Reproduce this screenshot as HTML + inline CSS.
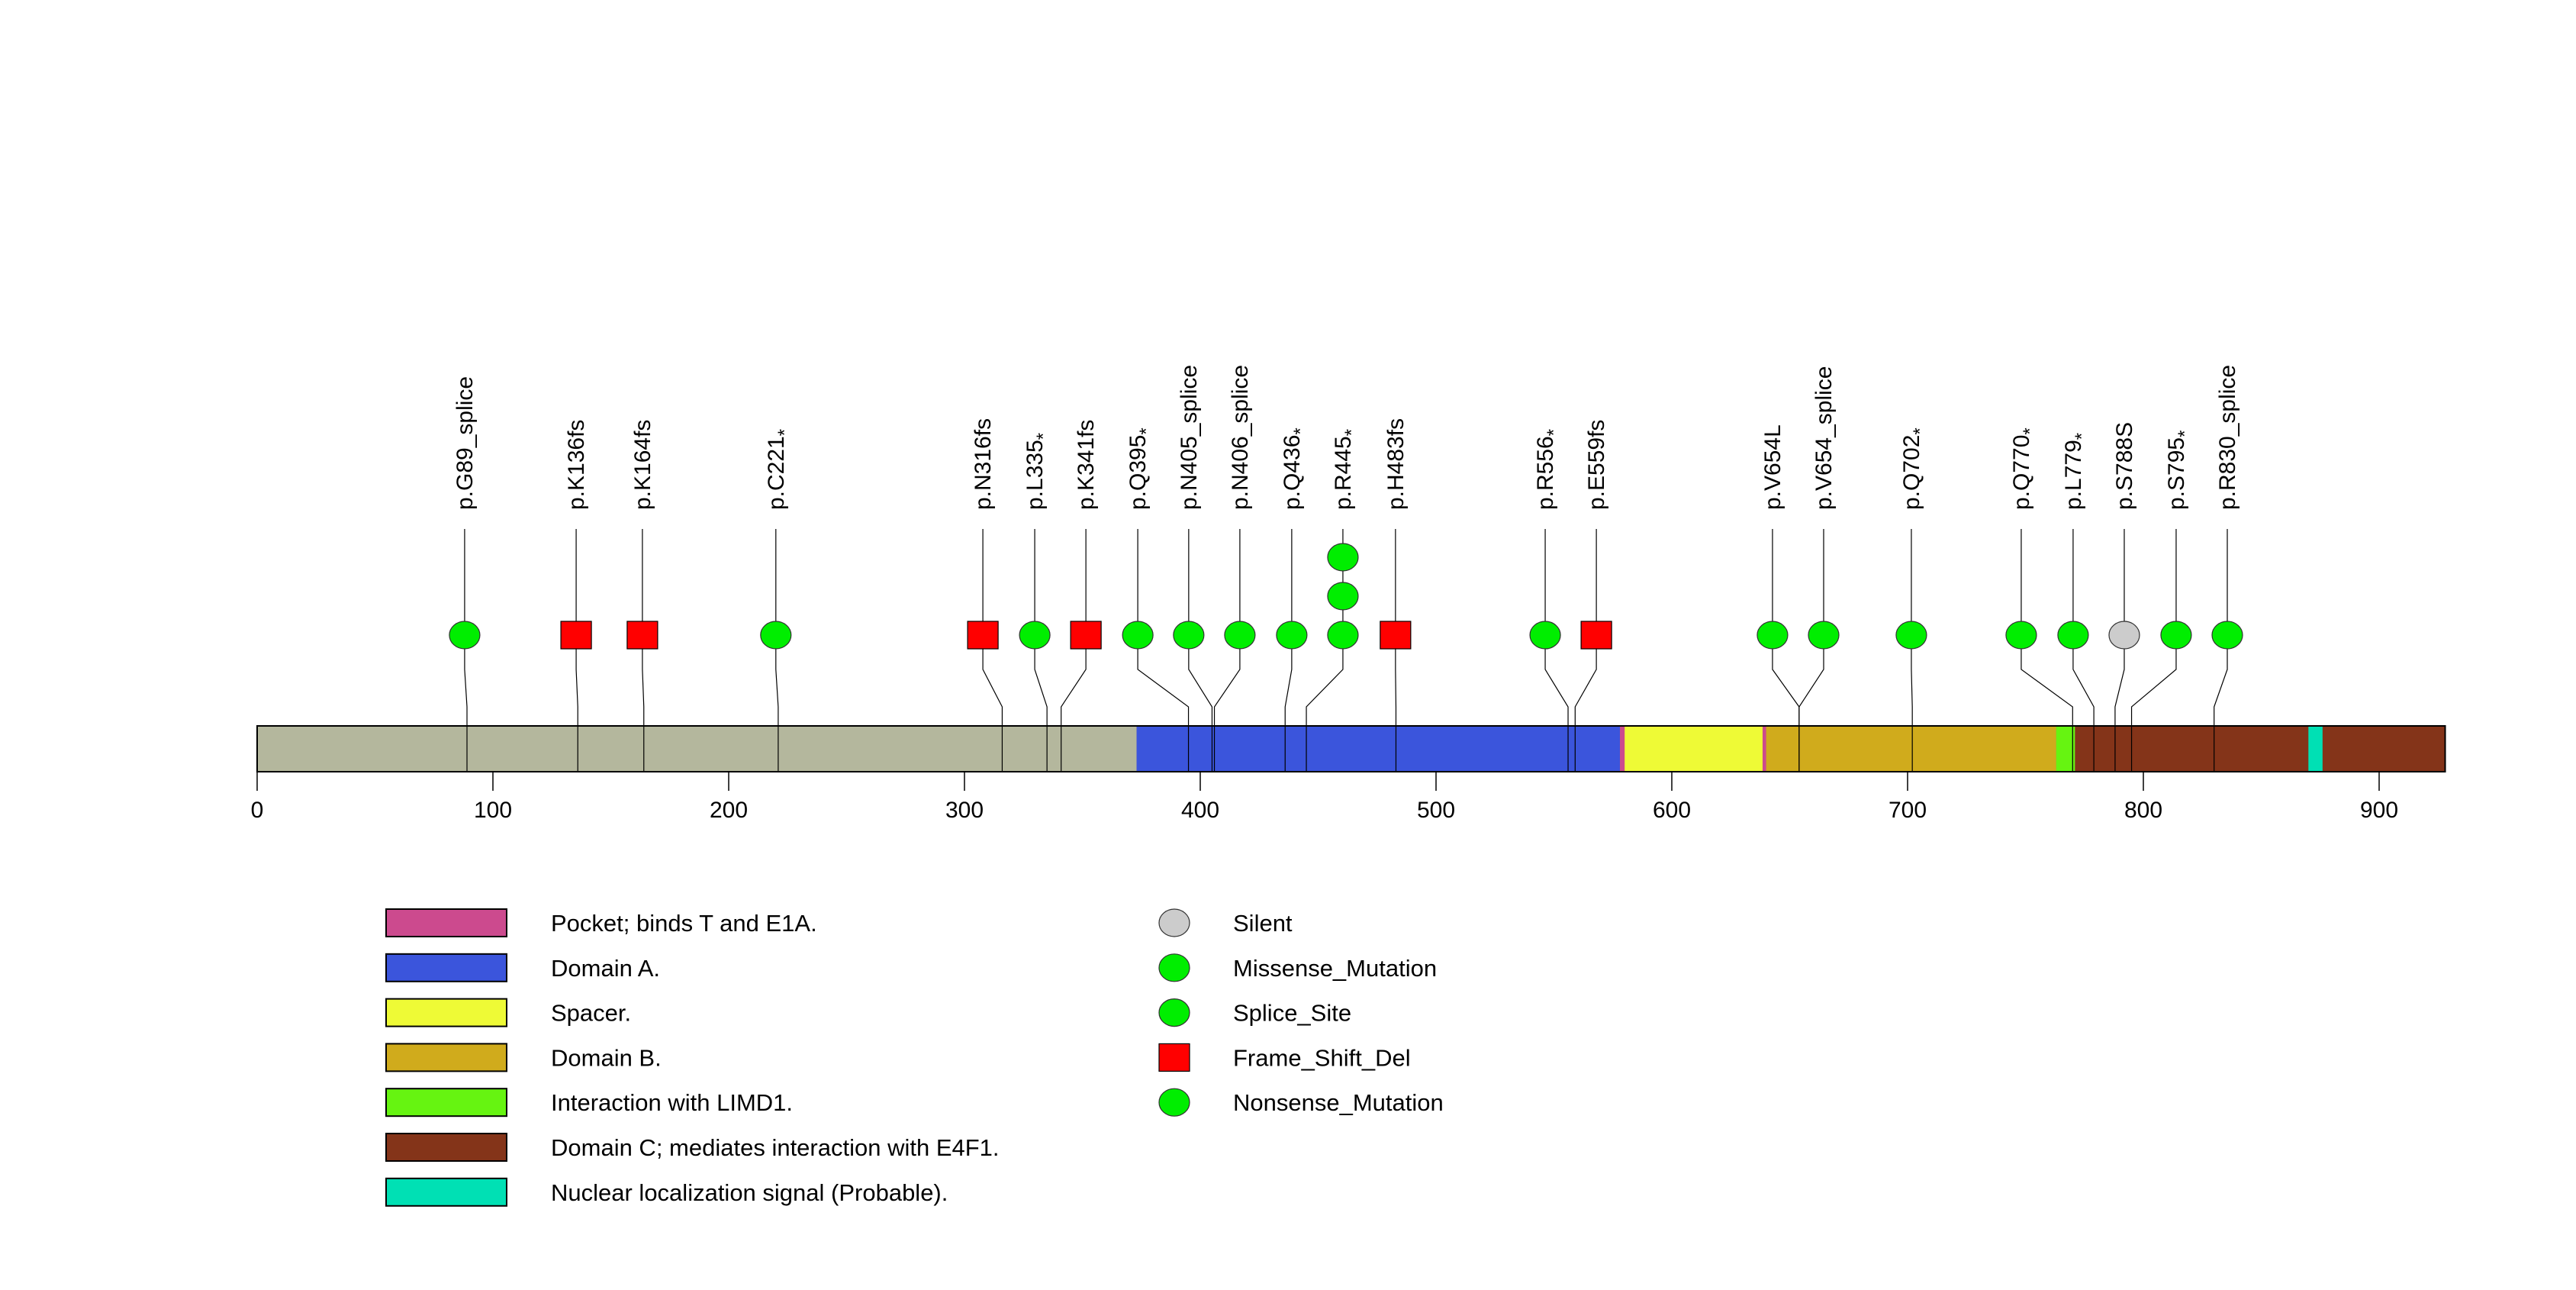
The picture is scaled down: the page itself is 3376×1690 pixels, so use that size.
<!DOCTYPE html>
<html><head><meta charset="utf-8"><style>
html,body{margin:0;padding:0;background:#fff;}
svg{display:block;font-family:"Liberation Sans",Arial,sans-serif;}
</style></head><body>
<svg id="chart" width="3376" height="1690" viewBox="0 0 3376 1690" xmlns="http://www.w3.org/2000/svg">
<g id="domains"></g>
<g id="axis"></g>
<g id="muts"></g>
<g id="legend"></g>
</svg>
<script>
const proteinLength = 928;
const domainNames = ["Pocket; binds T and E1A.","Domain A.","Spacer.","Domain B.","Interaction with LIMD1.","Domain C; mediates interaction with E4F1.","Nuclear localization signal (Probable)."];
const domainColors = ["#cc4a8e","#3b55dc","#eefa36","#d0ab1c","#66f411","#843419","#00e0b4"];
const domainStart = [373,373,580,640,763,771,870];
const domainEnd   = [771,578,638.5,763,771,928,876];
const tickValues = [0,100,200,300,400,500,600,700,800,900];
const mutLabels = ["p.G89_splice","p.K136fs","p.K164fs","p.C221*","p.N316fs","p.L335*","p.K341fs","p.Q395*","p.N405_splice","p.N406_splice","p.Q436*","p.R445*","p.H483fs","p.R556*","p.E559fs","p.V654L","p.V654_splice","p.Q702*","p.Q770*","p.L779*","p.S788S","p.S795*","p.R830_splice"];
const mutPos = [89,136,164,221,316,335,341,395,405,406,436,445,483,556,559,654,654,702,770,779,788,795,830];
const mutDisplayPos = [88,135.3,163.4,220,307.8,329.8,351.5,373.5,395.1,416.8,438.8,460.5,482.8,546.3,568,642.7,664.4,701.6,748.2,770.2,791.9,813.9,835.6];
const mutCounts = [1,1,1,1,1,1,1,1,1,1,1,3,1,1,1,1,1,1,1,1,1,1,1];
const mutTypes = ["Splice_Site","Frame_Shift_Del","Frame_Shift_Del","Nonsense_Mutation","Frame_Shift_Del","Nonsense_Mutation","Frame_Shift_Del","Nonsense_Mutation","Splice_Site","Splice_Site","Nonsense_Mutation","Nonsense_Mutation","Frame_Shift_Del","Nonsense_Mutation","Frame_Shift_Del","Missense_Mutation","Splice_Site","Nonsense_Mutation","Nonsense_Mutation","Nonsense_Mutation","Silent","Nonsense_Mutation","Splice_Site"];
const legendTypes = ["Silent","Missense_Mutation","Splice_Site","Frame_Shift_Del","Nonsense_Mutation"];
const typeColors = {"Silent":"#cccccc","Missense_Mutation":"#00ee00","Splice_Site":"#00ee00","Frame_Shift_Del":"#ff0000","Nonsense_Mutation":"#00ee00"};

const NS="http://www.w3.org/2000/svg";
const X0=337, PX=3.09;
function xs(v){return X0+v*PX;}
const barTop=951, barBot=1011, markY=832, stackGap=51;
function mk(tag,attrs,parent){const e=document.createElementNS(NS,tag);for(const k in attrs)e.setAttribute(k,attrs[k]);parent.appendChild(e);return e;}

const gd=document.getElementById('domains');
let bg=mk('rect',{x:xs(0),y:barTop,width:xs(proteinLength)-xs(0),height:barBot-barTop,fill:'#b4b79d',stroke:'none'},gd);


domainNames.forEach((n,i)=>{
  const r=mk('rect',{x:xs(domainStart[i]),y:barTop,width:xs(domainEnd[i])-xs(domainStart[i]),height:barBot-barTop,fill:domainColors[i]},gd);
  
  
});
mk('rect',{x:xs(0),y:barTop,width:xs(proteinLength)-xs(0),height:barBot-barTop,fill:'none',stroke:'#000','stroke-width':2},gd);

const ga=document.getElementById('axis');
tickValues.forEach(t=>{
  const l=mk('line',{x1:xs(t),x2:xs(t),y1:barBot,y2:1036,stroke:'#000','stroke-width':1.5},ga);
  
  
  const tx=mk('text',{x:xs(t),y:1071,'font-size':30,'text-anchor':'middle'},ga);
  tx.textContent=t;
  
  
});

const gm=document.getElementById('muts');
mutLabels.forEach((lab,i)=>{
  const px=xs(mutPos[i]), lx=xs(mutDisplayPos[i]);
  const g=mk('g',{},gm);
  
  
  mk('polyline',{points:`${lx},693 ${lx},877 ${px},926 ${px},${barBot}`,fill:'none',stroke:'#000','stroke-width':1.2},g);
  for(let k=0;k<mutCounts[i];k++){
    const cy=markY-k*stackGap, c=typeColors[mutTypes[i]];
    let m;
    if(mutTypes[i]==='Frame_Shift_Del') m=mk('rect',{x:lx-20,y:cy-18,width:40,height:36,fill:c,stroke:'#000','stroke-width':1.2},g);
    else m=mk('ellipse',{cx:lx,cy:cy,rx:20,ry:18,fill:c,stroke:'#333','stroke-width':1.2},g);
    
    
  }
  const t=mk('text',{transform:`translate(${lx+10},668) rotate(-90)`,'font-size':30,'text-anchor':'start'},g);
  
  
  if(lab.endsWith('*')){
    t.appendChild(document.createTextNode(lab.slice(0,-1)));
    const s=mk('tspan',{'font-size':24,dy:9},t); s.textContent='*';
  } else t.textContent=lab;
});

const gl=document.getElementById('legend');
domainNames.forEach((n,i)=>{
  const cy=1209+i*58.8;
  const r=mk('rect',{x:506,y:cy-18,width:158,height:36,fill:domainColors[i],stroke:'#000','stroke-width':2},gl);
  
  
  const t=mk('text',{x:722,y:cy+11,'font-size':31},gl); t.textContent=n;
  
  
});
legendTypes.forEach((n,i)=>{
  const cy=1209+i*58.8;
  let m;
  if(n==='Frame_Shift_Del') m=mk('rect',{x:1519,y:cy-18,width:40,height:36,fill:typeColors[n],stroke:'#000','stroke-width':1.2},gl);
  else m=mk('ellipse',{cx:1539,cy:cy,rx:20,ry:18,fill:typeColors[n],stroke:'#333','stroke-width':1.2},gl);
  
  
  const t=mk('text',{x:1616,y:cy+11,'font-size':31},gl); t.textContent=n;
  
  
});
</script>
</body></html>
